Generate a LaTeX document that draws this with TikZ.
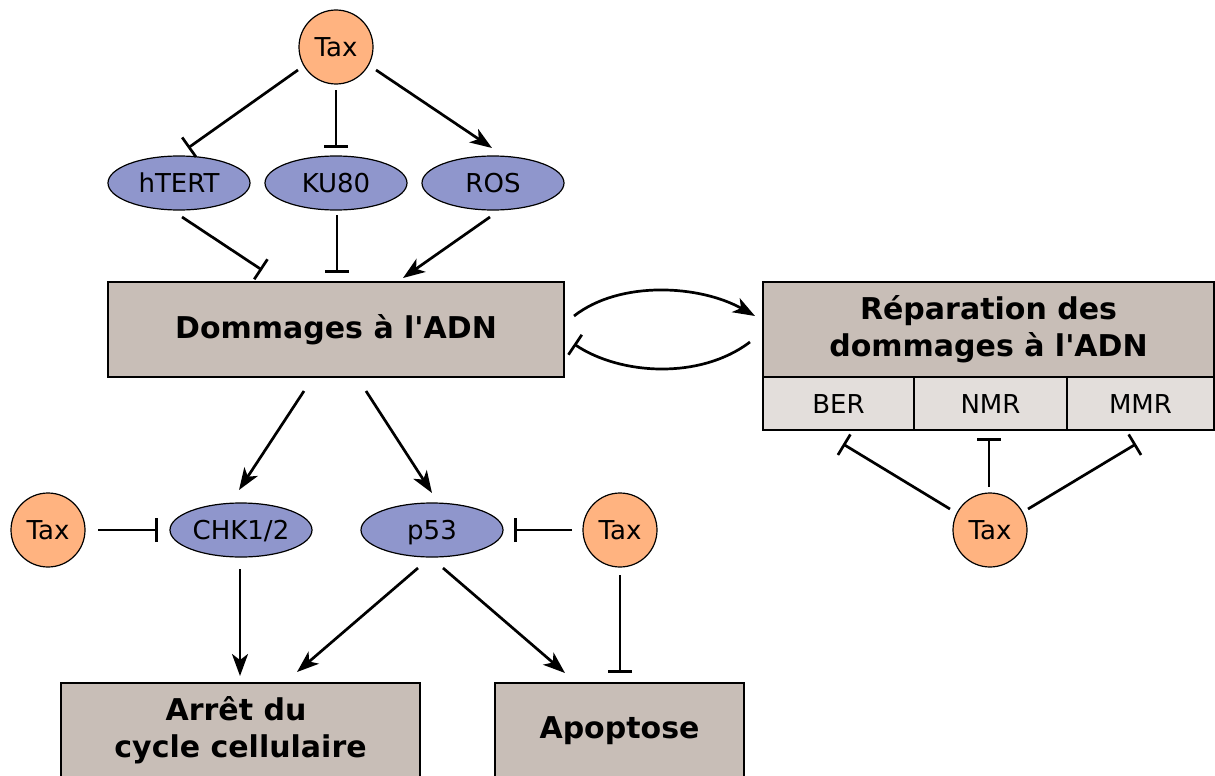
\documentclass[tikz,border=0pt]{standalone}
\usepackage{fontspec}
\setmainfont{DejaVu Sans}[Ligatures=TeXOff]
\usetikzlibrary{shapes.geometric,arrows.meta,calc}
\definecolor{taxc}{HTML}{FFB380}
\definecolor{protc}{HTML}{8F96CC}
\definecolor{boxc}{HTML}{C8BEB7}
\definecolor{cellc}{HTML}{E3DEDB}
\begin{document}
\begin{tikzpicture}[x=1pt,y=-1pt,
  tax/.style={circle, draw, line width=1.2pt, fill=taxc, minimum size=74pt, inner sep=0pt, text height=19pt, text depth=0pt, font=\fontsize{26}{30}\selectfont},
  prot/.style={ellipse, draw, line width=1.2pt, fill=protc, minimum width=142pt, minimum height=54pt, inner sep=0pt, text height=19pt, text depth=0pt, font=\fontsize{26}{30}\selectfont},
  bigbox/.style={rectangle, draw, line width=1.3pt, fill=boxc, inner sep=0pt, align=center, font=\bfseries\fontsize{30}{37}\selectfont},
  cellbox/.style={rectangle, draw, line width=1.3pt, fill=cellc, inner sep=0pt, minimum height=53pt, text height=19pt, text depth=0pt, font=\fontsize{26}{30}\selectfont},
  act/.style={-{Stealth[length=22pt,width=16pt,inset=6pt]}, line width=2.7pt},
  inh/.style={-{Bar[width=24pt]}, line width=2.7pt}]
\useasboundingbox (0,0) rectangle (1215,776);

% nodes
\node[tax] (taxT) at (336,47) {Tax};
\node[prot] (hTERT) at (179,183) {hTERT};
\node[prot] (KU80) at (336,183) {KU80};
\node[prot] (ROS) at (493,183) {ROS};
\node[bigbox, minimum width=456pt, minimum height=95pt] (dom) at (336,329.5) {Dommages à l'ADN};
\node[bigbox, minimum width=451pt, minimum height=95pt] (rep) at (988.5,329.5) {Réparation des\\dommages à l'ADN};
\node[cellbox, minimum width=151pt] (BER) at (838.5,403.5) {BER};
\node[cellbox, minimum width=153pt] (NMR) at (990.5,403.5) {NMR};
\node[cellbox, minimum width=147pt] (MMR) at (1140.5,403.5) {MMR};
\node[tax] (taxL) at (48,530) {Tax};
\node[prot] (CHK) at (241,530) {CHK1/2};
\node[prot] (p53) at (432,530) {p53};
\node[tax] (taxM) at (620,530) {Tax};
\node[tax] (taxR) at (990,530) {Tax};
\node[bigbox, minimum width=359pt, minimum height=94.5pt] (arret) at (240.5,730.25) {Arrêt du\rule{9pt}{0pt}\\cycle cellulaire};
\node[bigbox, minimum width=249pt, minimum height=94.5pt] (apop) at (619.5,730.25) {Apoptose};

% connectors
\draw[inh] ($(taxT)+(-38,23)$) -- ($(hTERT)+(9,-35)$);
\draw[inh] ($(taxT)+(0,43)$) -- ($(KU80)+(0,-35)$);
\draw[act] ($(taxT)+(40,23)$) -- ($(ROS)+(-1,-35)$);
\draw[inh] ($(hTERT)+(3,34)$) -- ($(dom)+(-74,-59.5)$);
\draw[inh] ($(KU80)+(1,32)$) -- ($(dom)+(1,-56.5)$);
\draw[act] ($(ROS)+(-3,34)$) -- ($(dom)+(67,-51.5)$);
\draw[act] ($(dom)+(238,-13.5)$) .. controls ($(dom)+(284,-49.5)$) and ($(rep)+(-288.5,-44.5)$) .. ($(rep)+(-233.5,-13.5)$);
\draw[inh] ($(rep)+(-238.5,12.5)$) .. controls ($(rep)+(-288.5,50.5)$) and ($(dom)+(284,45.5)$) .. ($(dom)+(238,14.5)$);
\draw[act] ($(dom)+(-32,61.5)$) -- ($(CHK)+(-2,-40)$);
\draw[act] ($(dom)+(30,61.5)$) -- ($(p53)+(0,-37)$);
\draw[inh] ($(taxL)+(50,0)$) -- ($(CHK)+(-83,0)$);
\draw[inh] ($(taxM)+(-48,0)$) -- ($(p53)+(82,0)$);
\draw[act] ($(CHK)+(-1,39)$) -- ($(arret)+(-0.5,-54.25)$);
\draw[act] ($(p53)+(-14,38)$) -- ($(arret)+(56.5,-58.25)$);
\draw[act] ($(p53)+(11,38)$) -- ($(apop)+(-54.5,-57.25)$);
\draw[inh] ($(taxM)+(0,45)$) -- ($(apop)+(0.5,-57.25)$);
\draw[inh] ($(taxR)+(-40,-21)$) -- ($(BER)+(4.5,40.5)$);
\draw[inh] ($(taxR)+(-1,-43)$) -- ($(NMR)+(-1.5,34.5)$);
\draw[inh] ($(taxR)+(38,-21)$) -- ($(MMR)+(-4.5,40.5)$);
\end{tikzpicture}
\end{document}
